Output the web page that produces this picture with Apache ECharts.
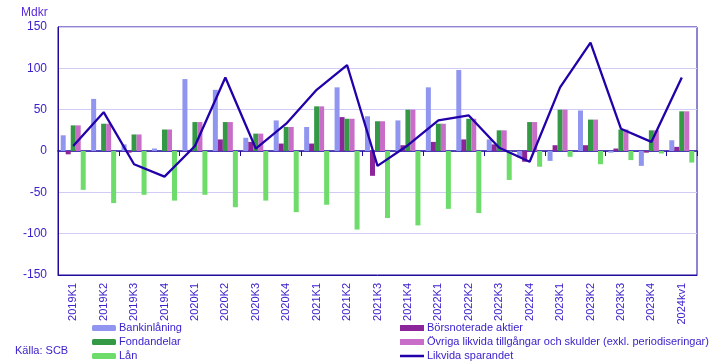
<!DOCTYPE html>
<html>
<head>
<meta charset="utf-8">
<script src="https://cdn.jsdelivr.net/npm/echarts@6/dist/echarts.min.js"></script>
<style>html,body{margin:0;padding:0;background:#fff}#c{width:719px;height:363px}</style>
</head>
<body>
<div id="c"></div>
<script>
const categories = ['2019K1','2019K2','2019K3','2019K4','2020K1','2020K2','2020K3','2020K4','2021K1','2021K2','2021K3','2021K4','2022K1','2022K2','2022K3','2022K4','2023K1','2023K2','2023K3','2023K4','2024kv1'];
const bankinlaning = [19, 63, 8, 3, 87, 74, 16, 37, 29, 77, 42, 37, 77, 98, 14, -8, -12, 49, -2, -18, 13];
const borsnoterade = [-4, 0, -2, 0, 1, 14, 11, 9, 9, 41, -30, 7, 11, 14, 8, -13, 7, 7, 3, -2, 5];
const fondandelar = [31, 33, 20, 26, 35, 35, 21, 29, 54, 39, 36, 50, 33, 39, 25, 35, 50, 38, 26, 25, 48];
const ovriga = [31, 33, 20, 26, 35, 35, 21, 29, 54, 39, 36, 50, 33, 39, 25, 35, 50, 38, 26, 25, 48];
const lan = [-47, -63, -53, -60, -53, -68, -60, -74, -65, -95, -81, -90, -70, -75, -35, -19, -7, -16, -11, -3, -14];
const likvida = [6, 47, -16, -31, 6, 89, 3, 33, 74, 104, -18, 7, 37, 43, 4, -13, 77, 131, 27, 11, 89];
const yTicks = {min: -150, max: 150, interval: 50};

const txt = '#3a22cc';
const axisCol = '#1f0a9e';
const font = 'Liberation Sans, Arial, sans-serif';
const names = ['Bankinlåning','Börsnoterade aktier','Fondandelar','Övriga likvida tillgångar och skulder (exkl. periodiseringar)','Lån','Likvida sparandet'];
const colors = ['#9096f0','#8c2599','#339944','#c86ec8','#6ddc6a','#2200aa'];
const barData = [bankinlaning, borsnoterade, fondandelar, ovriga, lan];

const series = barData.map((d, i) => ({
  name: names[i], type: 'bar', data: d, barWidth: 5, barGap: '0%',
  itemStyle: {color: colors[i]}, xAxisIndex: 0
}));
series.push({
  name: names[5], type: 'line', data: likvida, symbol: 'none', xAxisIndex: 0,
  lineStyle: {color: colors[5], width: 2.3}, itemStyle: {color: colors[5]}, z: 5
});

const chart = echarts.init(document.getElementById('c'), null, {renderer: 'canvas'});
const legendCommon = {
  orient: 'vertical', itemWidth: 24, itemHeight: 6, itemGap: 0, height: 80, padding: 0,
  textStyle: {color: txt, fontSize: 11, fontFamily: font, lineHeight: 14, padding: [0,0,0,-2]},
  selectedMode: false
};
chart.setOption({
  animation: false,
  title: {text: 'Mdkr', left: 21, top: 7, padding: 0, textStyle: {color: '#5a2ad8', fontSize: 12, fontWeight: 'normal', fontFamily: font}},
  grid: {left: 58, right: 22, top: 27, bottom: 88, show: true, borderColor: axisCol, borderWidth: 1, backgroundColor: 'transparent'},
  legend: [
    Object.assign({left: 92, top: 321, data: [names[0], names[2], names[4]]}, legendCommon),
    Object.assign({left: 400, top: 321, data: [
      {name: names[1], icon: 'rect'},
      {name: names[3], icon: 'rect'},
      {name: names[5], icon: 'path://M0 0H48V5H0Z'}
    ]}, legendCommon)
  ],
  graphic: [{type: 'text', left: 15, top: 345, style: {text: 'Källa: SCB', fill: txt, font: '11px ' + font}}],
  xAxis: [{
    type: 'category', data: categories, position: 'bottom',
    axisLine: {show: true, onZero: false, lineStyle: {color: axisCol}},
    axisTick: {show: false},
    axisLabel: {rotate: 90, color: txt, fontSize: 11, fontFamily: font, margin: 8}
  }, {
    type: 'category', data: categories, position: 'bottom',
    axisLine: {show: true, onZero: true, lineStyle: {color: axisCol, width: 1.5}},
    axisTick: {show: true, length: 5, inside: false, lineStyle: {color: axisCol}},
    axisLabel: {show: false}
  }],
  yAxis: {
    type: 'value', min: yTicks.min, max: yTicks.max, interval: yTicks.interval,
    axisLine: {show: true, lineStyle: {color: axisCol}},
    axisTick: {show: false},
    axisLabel: {color: txt, fontSize: 12, fontFamily: font, margin: 11},
    splitLine: {lineStyle: {color: '#d0ccf5'}}
  },
  series: series
});
</script>
</body>
</html>
